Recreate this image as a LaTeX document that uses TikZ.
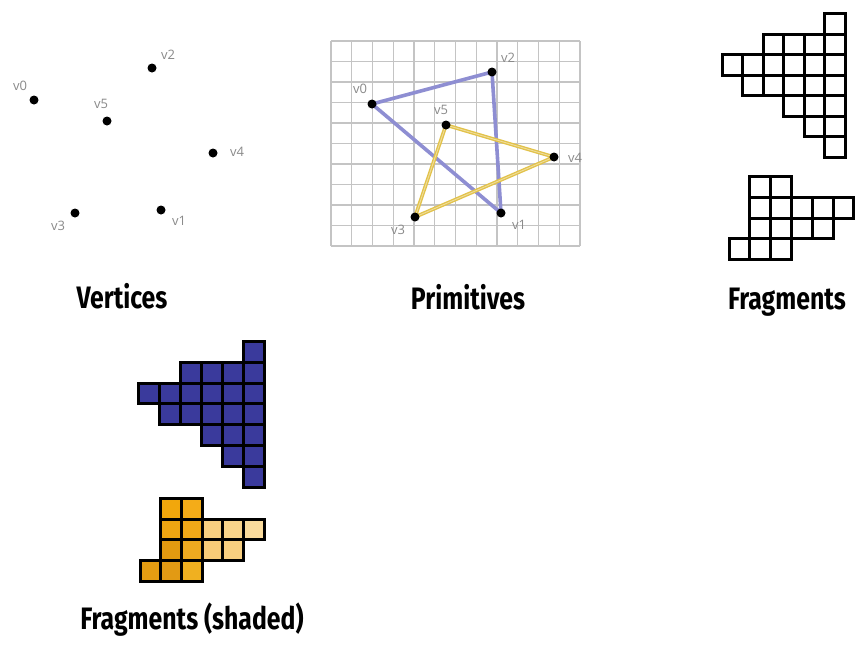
\documentclass[tikz,border=0pt]{standalone}
\usepackage{fontspec}
\usepackage{graphicx}
\setmainfont{Fira Sans}
\newfontfamily\labfont{Open Sans}
\definecolor{dotlab}{HTML}{8A8A8A}
\definecolor{gridc}{HTML}{C4C4C4}
\definecolor{triblue}{HTML}{8E8ED2}
\definecolor{triyel}{HTML}{E2C24A}
\definecolor{fragblue}{HTML}{3A3A9C}
\definecolor{oA}{HTML}{F2A70C}
\definecolor{oB}{HTML}{F4AC18}
\definecolor{oC}{HTML}{EEA512}
\definecolor{oD}{HTML}{F0A818}
\definecolor{oE}{HTML}{F8CF80}
\definecolor{oF}{HTML}{F9D48A}
\definecolor{oG}{HTML}{FADB9C}
\definecolor{oH}{HTML}{E39A10}
\definecolor{oI}{HTML}{EEAA20}
\definecolor{oJ}{HTML}{F7CB78}
\definecolor{oK}{HTML}{E59D12}
\definecolor{oL}{HTML}{E29A14}
\definecolor{oM}{HTML}{F0B020}
\tikzset{
  vdot/.style={circle,fill=black,inner sep=0pt,minimum size=9pt},
  vlab/.style={text=dotlab,font=\labfont\fontsize{13}{13}\selectfont,inner sep=0pt},
  title/.style={anchor=base,inner sep=0pt,font=\bfseries\fontsize{31}{31}\selectfont},
  cellbox/.style={draw=black,line width=3pt,line join=miter},
  triedge/.style={line width=3.6pt,line cap=round,line join=round},
}
\begin{document}
\begin{tikzpicture}[x=1pt,y=-1pt]
\useasboundingbox[fill=white] (0,0) rectangle (856,648);

% ---------- Vertices ----------
\node[vdot] (a0) at (34,100) {};
\node[vdot] (a2) at (152,68) {};
\node[vdot] (a5) at (107,121) {};
\node[vdot] (a4) at (213,153) {};
\node[vdot] (a3) at (75,213) {};
\node[vdot] (a1) at (161,210) {};
\node[vlab] (la0) at (20,86) {v0};
\node[vlab] (la2) at (168,55) {v2};
\node[vlab] (la5) at (101,104) {v5};
\node[vlab] (la4) at (237,152) {v4};
\node[vlab] (la3) at (58,226) {v3};
\node[vlab] (la1) at (179,221) {v1};
\node[title] (tv) at (122,308) {\scalebox{0.8}[1]{Vertices}};

% ---------- Primitives ----------
\foreach \i in {0,...,12} {
  \draw[gridc,line width=1.1pt] ({331+\i*249/12},41) -- ({331+\i*249/12},246);
}
\foreach \j in {0,...,10} {
  \draw[gridc,line width=1.1pt] (331,{41+\j*20.5}) -- (580,{41+\j*20.5});
}
\coordinate (b0) at (372,104);
\coordinate (b2) at (492,72);
\coordinate (b5) at (446,125);
\coordinate (b4) at (554,157);
\coordinate (b3) at (415,217);
\coordinate (b1) at (501,213);
\draw[triedge,triblue] (b0) -- (b2) -- (b1) -- cycle;
\draw[triedge,triyel] (b5) -- (b4) -- (b3) -- cycle;
\draw[line width=0.9pt,triyel!55!white] (b5) -- (b4) -- (b3) -- cycle;
\node[vdot] (p0) at (b0) {};
\node[vdot] (p2) at (b2) {};
\node[vdot] (p5) at (b5) {};
\node[vdot] (p4) at (b4) {};
\node[vdot] (p3) at (b3) {};
\node[vdot] (p1) at (b1) {};
\node[vlab] (lp0) at (360,89) {v0};
\node[vlab] (lp2) at (508,58) {v2};
\node[vlab] (lp5) at (441,110) {v5};
\node[vlab] (lp4) at (575,158) {v4};
\node[vlab] (lp3) at (398,230) {v3};
\node[vlab] (lp1) at (519,225) {v1};
\node[title] (tp) at (468,309) {\scalebox{0.8}[1]{Primitives}};

% ---------- Fragments (outline) ----------
\foreach \c/\r in {5/0, 2/1,3/1,4/1,5/1, 0/2,1/2,2/2,3/2,4/2,5/2, 1/3,2/3,3/3,4/3,5/3, 3/4,4/4,5/4, 4/5,5/5, 5/6} {
  \draw[cellbox] ({722+\c*20.5},{13.5+\r*20.5}) rectangle ++(20.5,20.5);
}
\foreach \c/\r in {1/0,2/0, 1/1,2/1,3/1,4/1,5/1, 1/2,2/2,3/2,4/2, 0/3,1/3,2/3} {
  \draw[cellbox] ({729+\c*20.8},{176.5+\r*20.8}) rectangle ++(20.8,20.8);
}
\node[title] (tf) at (787,309) {\scalebox{0.8}[1]{Fragments}};

% ---------- Fragments (shaded) ----------
\foreach \c/\r in {5/0, 2/1,3/1,4/1,5/1, 0/2,1/2,2/2,3/2,4/2,5/2, 1/3,2/3,3/3,4/3,5/3, 3/4,4/4,5/4, 4/5,5/5, 5/6} {
  \draw[cellbox,fill=fragblue] ({138.5+\c*21},{341.5+\r*20.8}) rectangle ++(21,20.8);
}
\foreach \c/\r/\col in {1/0/oA,2/0/oB, 1/1/oC,2/1/oD,3/1/oE,4/1/oF,5/1/oG, 1/2/oH,2/2/oI,3/2/oJ,4/2/oE, 0/3/oK,1/3/oL,2/3/oM} {
  \draw[cellbox,fill=\col] ({140+\c*20.7},{498.5+\r*20.7}) rectangle ++(20.7,20.7);
}
\node[title] (ts) at (192,629) {\scalebox{0.8}[1]{Fragments (shaded)}};
\end{tikzpicture}
\end{document}
